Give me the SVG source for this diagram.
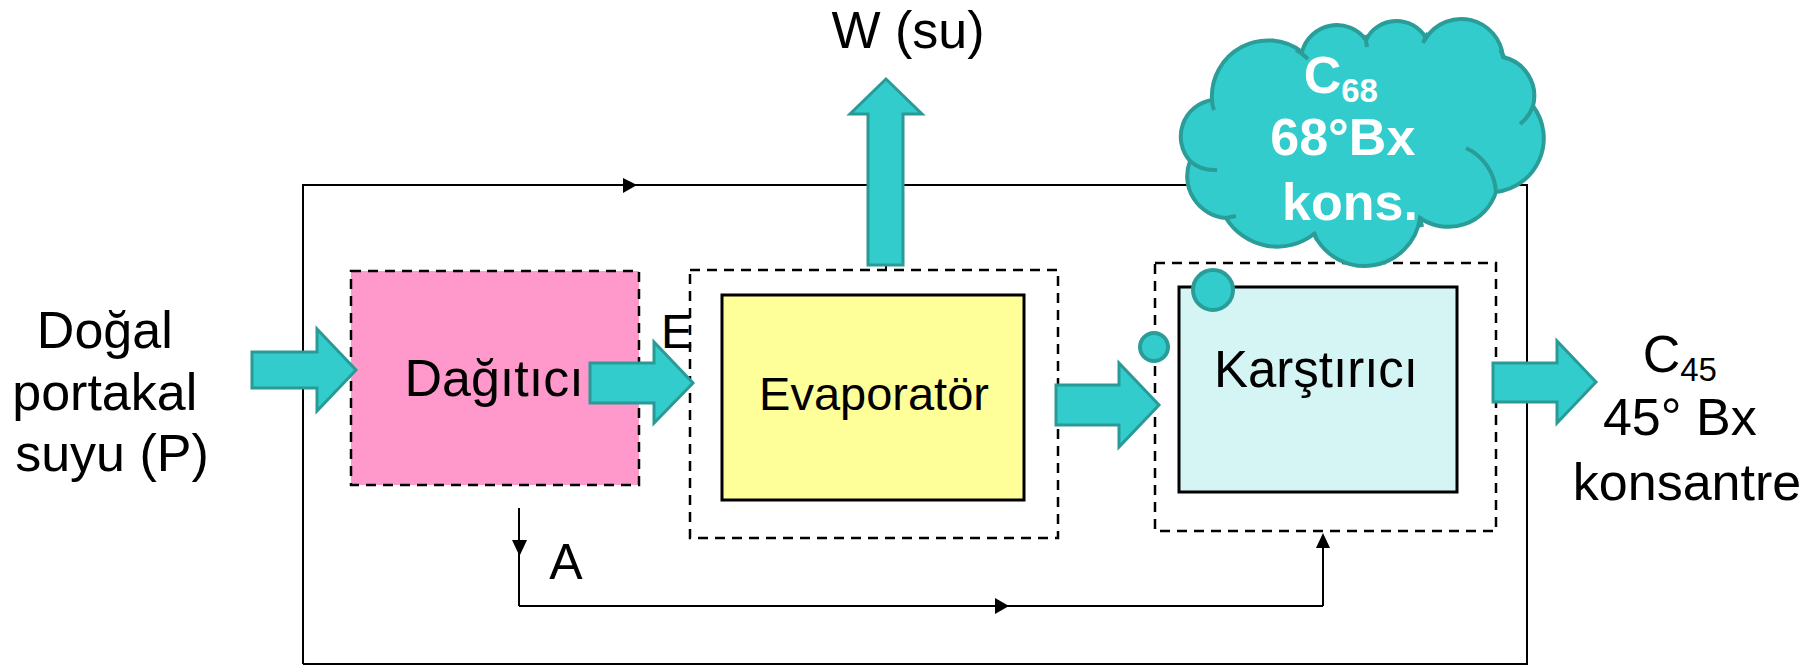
<svg xmlns="http://www.w3.org/2000/svg" width="1812" height="666" viewBox="0 0 1812 666">
<style>
.t{font-family:"Liberation Sans",Arial,sans-serif;fill:#000;}
.w{font-family:"Liberation Sans",Arial,sans-serif;fill:#fff;font-weight:bold;}
.fat{fill:#33CCCC;stroke:#2A9A96;stroke-width:3;stroke-linejoin:miter;}
.ln{fill:none;stroke:#000;stroke-width:2;}
.ah{fill:#000;stroke:none;}
.dash{fill:none;stroke:#000;stroke-width:2.5;stroke-dasharray:10 7;}
.solid{stroke:#000;stroke-width:3;}
.bub{fill:#33CCCC;stroke:#2A9D99;stroke-width:4;}
.stub{fill:none;stroke:#2A9D99;stroke-width:4;}
</style>
<rect width="1812" height="666" fill="#fff"/>

<g id="connectors">
  <path class="ln" d="M303 664 V185 H1527 V664 H303"/>
  <polygon class="ah" points="623,178 637,185 623,193"/>
  <path class="ln" d="M519 508 V606" stroke-width="1.5"/>
  <polygon class="ah" points="512,540 527,540 519.5,556"/>
  <path class="ln" d="M519 606 H1323" stroke-width="2.5"/>
  <polygon class="ah" points="995,598 1009,606 995,614"/>
  <path class="ln" d="M1323 606 V545" stroke-width="2"/>
  <polygon class="ah" points="1316,548 1330,548 1323,533"/>
  <path class="ln" d="M886 263 V271" stroke-width="1.5"/>
</g>

<g id="dagitici">
  <rect x="351" y="271" width="288" height="214" fill="#FF99CC"/>
  <rect class="dash" x="351" y="271" width="288" height="214" stroke-width="3"/>
  <text class="t" x="494" y="396" font-size="52" text-anchor="middle">Dağıtıcı</text>
</g>

<g id="evaporator">
  <rect class="dash" x="690" y="270" width="368" height="268"/>
  <rect class="solid" x="722" y="295" width="302" height="205" fill="#FFFF99"/>
  <text class="t" x="874" y="410" font-size="47" text-anchor="middle">Evaporatör</text>
</g>

<g id="karistirici">
  <rect class="dash" x="1155" y="263" width="341" height="268"/>
  <rect class="solid" x="1179" y="287" width="278" height="205" fill="#D5F5F4"/>
  <circle class="bub" cx="1213" cy="290" r="20"/>
  <circle class="bub" cx="1154" cy="347" r="14"/>
  <text class="t" x="1316" y="387" font-size="51" text-anchor="middle">Karştırıcı</text>
</g>

<g id="feed">
  <text class="t" font-size="52" text-anchor="middle">
    <tspan x="112" y="348">Doğal</tspan>
    <tspan x="112" y="410">portakal</tspan>
    <tspan x="112" y="471">suyu (P)</tspan>
  </text>
  <polygon class="fat" points="252,352 317,352 317,329 356,370 317,411 317,388 252,388"/>
</g>

<g id="e-stream">
  <polygon class="fat" points="590,363 654,363 654,342 693,383 654,423 654,403 590,403"/>
  <text class="t" x="661" y="348" font-size="48">E</text>
</g>

<g id="water">
  <polygon class="fat" points="868,265 868,114 850,114 886,79 922,114 903,114 903,265"/>
  <text class="t" x="908" y="48" font-size="52" text-anchor="middle">W (su)</text>
</g>

<g id="evap-out">
  <polygon class="fat" points="1056,385 1119,385 1119,363 1159,405 1119,447 1119,425 1056,425"/>
</g>

<g id="product">
  <polygon class="fat" points="1493,363 1557,363 1557,341 1596,382 1557,423 1557,402 1493,402"/>
  <text class="t" font-size="52" text-anchor="middle">
    <tspan x="1687" y="372">C<tspan font-size="33" dy="9">45</tspan></tspan>
    <tspan x="1687" y="435">45° Bx</tspan>
    <tspan x="1687" y="500">konsantre</tspan>
  </text>
</g>

<g id="a-stream">
  <text class="t" x="566" y="579" font-size="50" text-anchor="middle">A</text>
</g>

<g id="cloud">
  <path class="bub" d="M1190 161 A37 37 0 0 1 1212 100 A56 56 0 0 1 1302 52 A36 36 0 0 1 1366 40 A34 34 0 0 1 1426 38 A42 42 0 0 1 1503 57 A40 40 0 0 1 1533 106 A54 54 0 0 1 1496 192 A50 50 0 0 1 1420 218 A56 56 0 0 1 1314 234 A60 60 0 0 1 1226 218 A42 42 0 0 1 1190 161 Z"/>
  <path class="stub" d="M1212 100 Q1212 105 1214 110"/>
  <path class="stub" d="M1296 50 Q1302 53 1308 59"/>
  <path class="stub" d="M1365 35 Q1366 41 1367 47"/>
  <path class="stub" d="M1428 33 Q1425 38 1423 43"/>
  <path class="stub" d="M1500 50 Q1502 53 1504 57"/>
  <path class="stub" d="M1533 106 A40 40 0 0 1 1520 124"/>
  <path class="stub" d="M1466 148 A52 52 0 0 1 1496 192"/>
  <path class="stub" d="M1420 217 Q1421 222 1422 227"/>
  <path class="stub" d="M1314 232 Q1315 236 1317 240"/>
  <path class="stub" d="M1226 218 Q1231 217 1236 216"/>
  <path class="stub" d="M1217 170 A37 37 0 0 1 1190 161"/>
  <text class="w" font-size="52" text-anchor="middle">
    <tspan x="1348" y="93">C<tspan font-size="33" dy="9">68</tspan></tspan>
    <tspan x="1350" y="155">68°Bx</tspan>
    <tspan x="1350" y="220">kons.</tspan>
  </text>
</g>
</svg>
